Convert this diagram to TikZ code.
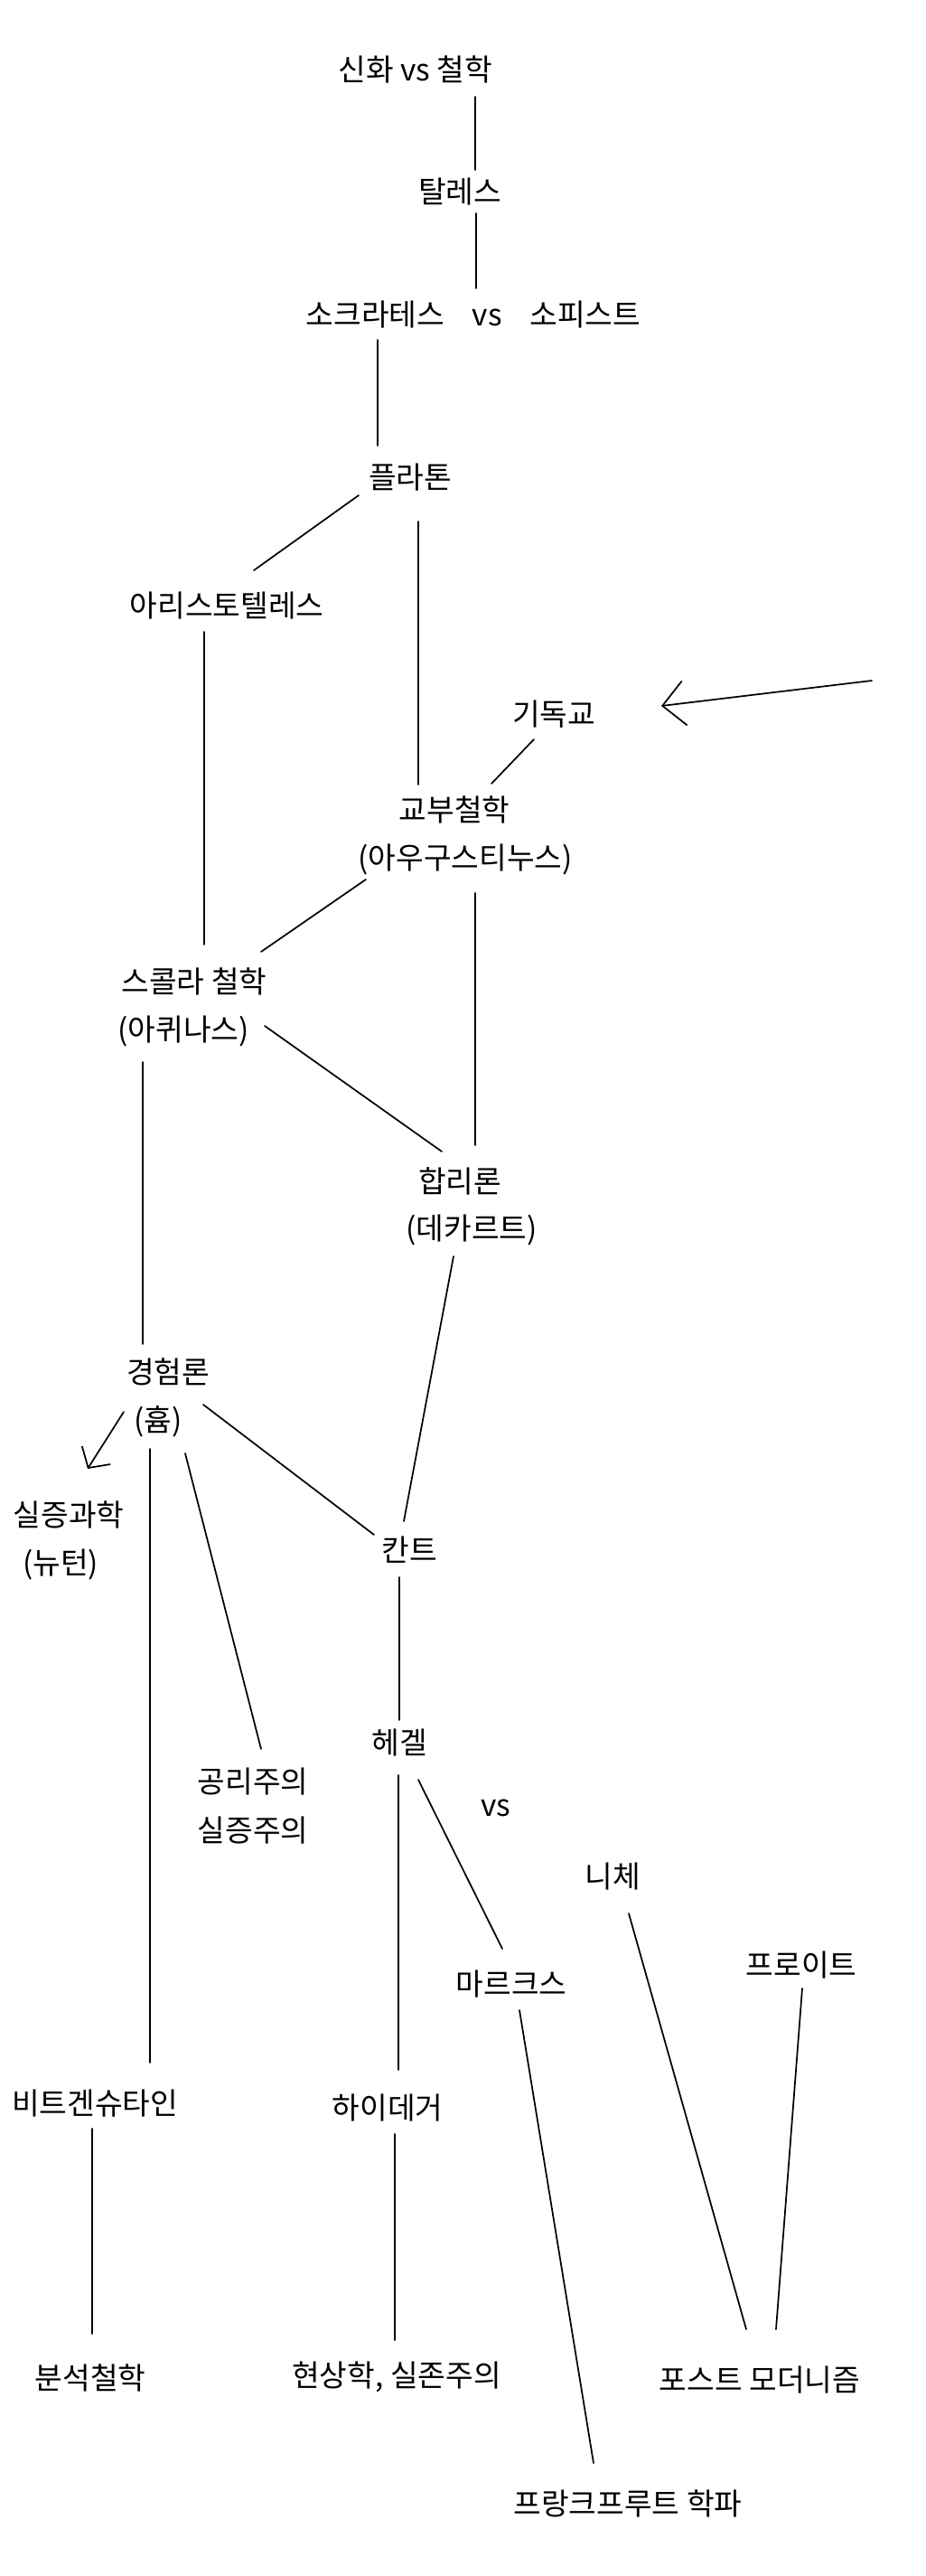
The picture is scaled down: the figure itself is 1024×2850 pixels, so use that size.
\documentclass[tikz,border=0pt]{standalone}
\usepackage{fontspec}
\setmainfont{Noto Sans CJK KR}
\usetikzlibrary{arrows.meta}
\begin{document}
\begin{tikzpicture}[x=0.75pt,y=-0.75pt,
  lbl/.style={inner sep=0pt, font=\fontsize{25pt}{30pt}\selectfont},
  conn/.style={line width=1.3pt, line cap=round},
  bigbarb/.style={conn, -{Straight Barb[length=18.5pt, width=37pt, line width=1.3pt]}},
  smallbarb/.style={conn, -{Straight Barb[length=12.5pt, width=28pt, line width=1.3pt]}}]
\useasboundingbox (0,0) rectangle (1024,2850);
\fill[white] (0,0) rectangle (1024,2850);

% ---- labels ----
\node[lbl] (myth) at (460,77) {신화 vs 철학};
\node[lbl] (thales) at (509,212) {탈레스};
\node[lbl] (socrates) at (524,348) {소크라테스\hspace{23pt}vs\hspace{23pt}소피스트};
\node[lbl] (plato) at (454,528) {플라톤};
\node[lbl] (aristotle) at (251,670) {아리스토텔레스};
\node[lbl] (christ) at (613,790) {기독교};
\node[lbl] (patristic) at (503,896) {교부철학};
\node[lbl] (augustine) at (515,951) {(아우구스티누스)};
\node[lbl] (scholastic) at (215,1086) {스콜라 철학};
\node[lbl] (aquinas) at (203,1141) {(아퀴나스)};
\node[lbl] (rational) at (509,1307) {합리론};
\node[lbl] (descartes) at (522,1361) {(데카르트)};
\node[lbl] (empiric) at (186,1518) {경험론};
\node[lbl] (hume) at (175,1573) {(흄)};
\node[lbl] (positsci) at (76,1676) {실증과학};
\node[lbl] (newton) at (67,1731) {(뉴턴)};
\node[lbl] (kant) at (453,1715) {칸트};
\node[lbl] (hegel) at (442,1928) {헤겔};
\node[lbl] (util) at (280,1971) {공리주의};
\node[lbl] (positiv) at (280,2025) {실증주의};
\node[lbl] (vs) at (549,2000) {vs};
\node[lbl] (nietzsche) at (678,2076) {니체};
\node[lbl] (freud) at (887,2174) {프로이트};
\node[lbl] (marx) at (566,2195) {마르크스};
\node[lbl] (witt) at (105,2327) {비트겐슈타인};
\node[lbl] (heidegger) at (429,2332) {하이데거};
\node[lbl] (analytic) at (100,2631) {분석철학};
\node[lbl] (phenom) at (439,2630) {현상학, 실존주의};
\node[lbl] (postmod) at (841,2633) {포스트 모더니즘};
\node[lbl] (frankfurt) at (695,2770) {프랑크프루트 학파};

% ---- connector end points ----
\coordinate (myth-s) at (526,107);   \coordinate (thales-n) at (526,188);
\coordinate (thales-s) at (527,236); \coordinate (socrates-n) at (527,319);
\coordinate (socrates-s) at (418,376); \coordinate (plato-n) at (418,493);
\coordinate (plato-sw) at (397,548); \coordinate (aristotle-ne) at (281,631);
\coordinate (plato-s) at (463,577);  \coordinate (patristic-n) at (463,868);
\coordinate (aristotle-s) at (226,699); \coordinate (scholastic-n) at (226,1045);
\coordinate (outside-e) at (965,753); \coordinate (christ-e) at (732,781);
\coordinate (christ-sw) at (591,818); \coordinate (patristic-ne) at (544,867);
\coordinate (augustine-sw) at (405,973); \coordinate (scholastic-ne) at (289,1053);
\coordinate (augustine-s) at (526,988); \coordinate (rational-n) at (526,1267);
\coordinate (aquinas-e) at (293,1135); \coordinate (rational-nw) at (489,1274);
\coordinate (aquinas-s) at (158,1175); \coordinate (empiric-n) at (158,1487);
\coordinate (descartes-s) at (502,1390); \coordinate (kant-n) at (447,1683);
\coordinate (hume-w) at (137,1562); \coordinate (positsci-ne) at (97,1625);
\coordinate (hume-e) at (225,1554); \coordinate (kant-nw) at (414,1698);
\coordinate (hume-s) at (166,1603); \coordinate (witt-n) at (166,2282);
\coordinate (hume-se) at (205,1608); \coordinate (util-n) at (289,1935);
\coordinate (kant-s) at (442,1745); \coordinate (hegel-n) at (442,1903);
\coordinate (hegel-s) at (441,1964); \coordinate (heidegger-n) at (441,2290);
\coordinate (hegel-se) at (463,1969); \coordinate (marx-n) at (556,2156);
\coordinate (nietzsche-s) at (696,2117); \coordinate (postmod-nw) at (826,2577);
\coordinate (freud-s) at (888,2200); \coordinate (postmod-n) at (859,2577);
\coordinate (marx-s) at (575,2224); \coordinate (frankfurt-n) at (657,2725);
\coordinate (witt-s) at (102,2355); \coordinate (analytic-n) at (102,2582);
\coordinate (heidegger-s) at (437,2361); \coordinate (phenom-n) at (437,2589);

% ---- connectors ----
\draw[conn] (myth-s) -- (thales-n);
\draw[conn] (thales-s) -- (socrates-n);
\draw[conn] (socrates-s) -- (plato-n);
\draw[conn] (plato-sw) -- (aristotle-ne);
\draw[conn] (plato-s) -- (patristic-n);
\draw[conn] (aristotle-s) -- (scholastic-n);
\draw[bigbarb] (outside-e) -- (christ-e);
\draw[conn] (christ-sw) -- (patristic-ne);
\draw[conn] (augustine-sw) -- (scholastic-ne);
\draw[conn] (augustine-s) -- (rational-n);
\draw[conn] (aquinas-e) -- (rational-nw);
\draw[conn] (aquinas-s) -- (empiric-n);
\draw[conn] (descartes-s) -- (kant-n);
\draw[smallbarb] (hume-w) -- (positsci-ne);
\draw[conn] (hume-e) -- (kant-nw);
\draw[conn] (hume-s) -- (witt-n);
\draw[conn] (hume-se) -- (util-n);
\draw[conn] (kant-s) -- (hegel-n);
\draw[conn] (hegel-s) -- (heidegger-n);
\draw[conn] (hegel-se) -- (marx-n);
\draw[conn] (nietzsche-s) -- (postmod-nw);
\draw[conn] (freud-s) -- (postmod-n);
\draw[conn] (marx-s) -- (frankfurt-n);
\draw[conn] (witt-s) -- (analytic-n);
\draw[conn] (heidegger-s) -- (phenom-n);
\end{tikzpicture}
\end{document}
